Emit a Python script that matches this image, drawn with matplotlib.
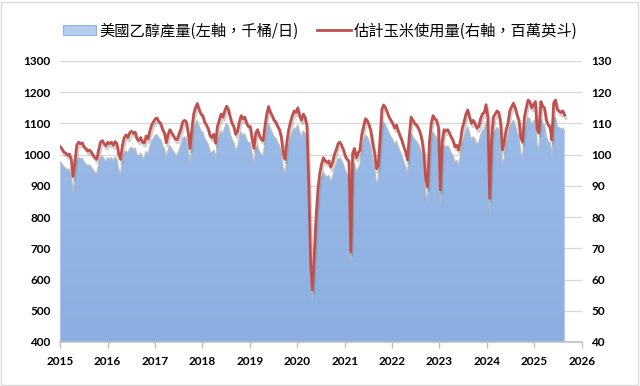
import numpy as np
import pandas as pd
import matplotlib
matplotlib.use("Agg")
import matplotlib.pyplot as plt
import matplotlib.dates as mdates
import matplotlib.patheffects as pe
from matplotlib.colors import LinearSegmentedColormap
from matplotlib.patches import Rectangle, Patch
from matplotlib.lines import Line2D
from matplotlib.font_manager import FontProperties

# 估計玉米使用量(右軸,百萬英斗),約每兩週一點
corn_2015 = [102.5, 101.8, 100.8, 100.5, 99.8, 100.2, 98.5, 93.0, 97.5, 103.0, 104.0, 103.5, 103.8,
             102.5, 102.0, 101.2, 101.5, 100.8, 99.8, 99.0, 98.5, 101.5, 104.0, 104.5, 103.5, 102.8]
corn_2016 = [104.0, 103.5, 104.0, 103.0, 104.2, 103.5, 100.0, 98.5, 103.0, 105.5, 106.3, 105.5, 107.0,
             107.5, 106.8, 107.2, 105.0, 104.5, 105.5, 104.0, 103.8, 106.0, 105.0, 107.5, 109.5, 110.5]
corn_2017 = [111.5, 111.7, 110.5, 110.0, 108.0, 107.0, 103.8, 106.5, 108.0, 107.0, 106.0, 105.0, 104.8,
             106.5, 108.2, 110.5, 111.0, 110.5, 107.0, 102.0, 108.0, 113.0, 115.0, 116.4, 114.5, 113.0]
corn_2018 = [112.5, 110.5, 109.5, 108.3, 106.0, 105.5, 106.5, 103.7, 109.0, 111.0, 113.0, 112.0, 114.0,
             115.5, 114.5, 112.0, 110.0, 109.0, 106.5, 107.5, 110.5, 112.5, 111.5, 112.0, 110.0, 109.0]
corn_2019 = [109.0, 105.0, 102.0, 107.0, 108.0, 106.0, 105.0, 104.5, 109.0, 113.0, 115.4, 113.5, 112.5,
             111.0, 110.5, 109.0, 108.0, 105.5, 100.5, 98.5, 104.0, 108.0, 110.5, 112.5, 114.0, 113.5]
corn_2020 = [115.0, 112.5, 111.0, 113.0, 112.0, 109.0, 90.0, 65.0, 56.6, 68.0, 80.0, 89.0, 94.0,
             97.0, 99.0, 98.0, 97.5, 98.0, 96.0, 97.5, 100.0, 101.5, 103.5, 104.0, 103.0, 101.5]
corn_2021 = [99.5, 98.5, 98.0, 68.8, 100.5, 102.0, 99.0, 100.5, 101.5, 106.5, 109.0, 111.5, 111.0,
             109.5, 107.5, 103.5, 100.5, 95.5, 96.5, 105.0, 114.5, 115.9, 115.0, 113.5, 112.0, 111.0]
corn_2022 = [110.0, 108.5, 109.5, 107.5, 106.0, 104.5, 102.5, 101.0, 98.3, 106.0, 112.0, 111.0, 110.0,
             109.5, 108.5, 107.0, 104.5, 100.0, 92.0, 89.6, 104.0, 110.0, 112.5, 111.5, 111.0, 108.5]
corn_2023 = [88.7, 104.0, 108.0, 107.5, 108.0, 107.0, 105.5, 104.5, 102.5, 103.0, 101.5, 104.5, 108.5,
             110.5, 113.0, 114.3, 112.0, 110.0, 111.0, 110.0, 108.5, 109.0, 111.5, 113.0, 113.5, 116.0]
corn_2024 = [112.0, 86.0, 104.5, 112.0, 113.0, 114.0, 113.5, 110.0, 101.5, 104.0, 108.0, 110.0, 114.0,
             115.3, 116.5, 115.0, 112.7, 111.0, 105.5, 104.0, 112.0, 115.0, 117.5, 117.0, 115.0, 116.0]
corn_2025 = [117.0, 108.0, 107.0, 117.0, 115.5, 115.0, 111.0, 109.5, 109.0, 104.7, 116.5, 117.5, 114.5,
             114.0, 113.5, 114.0, 112.7]

# 美國乙醇產量(左軸,千桶/日)
eth_2015 = [976, 970, 960, 957, 950, 954, 938, 880, 929, 981, 990, 986, 989,
            976, 971, 964, 967, 960, 950, 943, 938, 967, 990, 995, 986, 979]
eth_2016 = [990, 986, 990, 981, 992, 986, 952, 938, 981, 1005, 1012, 1005, 1019,
            1024, 1017, 1021, 1000, 995, 1005, 990, 989, 1010, 1000, 1024, 1043, 1052]
eth_2017 = [1062, 1064, 1052, 1048, 1029, 1019, 989, 1014, 1029, 1019, 1010, 1000, 998,
            1014, 1030, 1052, 1057, 1052, 1019, 971, 1029, 1076, 1095, 1109, 1090, 1076]
eth_2018 = [1071, 1052, 1043, 1031, 1010, 1005, 1014, 988, 1038, 1057, 1076, 1067, 1086,
            1100, 1090, 1067, 1048, 1038, 1014, 1024, 1052, 1071, 1062, 1067, 1048, 1038]
eth_2019 = [1038, 1000, 971, 1019, 1029, 1010, 1000, 995, 1038, 1076, 1099, 1081, 1071,
            1057, 1052, 1038, 1029, 1005, 957, 938, 990, 1029, 1052, 1071, 1086, 1081]
eth_2020 = [1095, 1071, 1057, 1076, 1067, 1038, 857, 619, 539, 648, 762, 848, 895,
            924, 943, 933, 929, 933, 914, 929, 952, 967, 986, 990, 981, 967]
eth_2021 = [948, 938, 933, 655, 957, 971, 943, 957, 967, 1014, 1038, 1062, 1057,
            1043, 1024, 986, 957, 910, 919, 1000, 1090, 1104, 1095, 1081, 1067, 1057]
eth_2022 = [1048, 1033, 1043, 1024, 1010, 995, 976, 962, 936, 1010, 1067, 1057, 1048,
            1043, 1033, 1019, 995, 952, 876, 853, 990, 1048, 1071, 1062, 1057, 1033]
eth_2023 = [845, 990, 1029, 1024, 1029, 1019, 1005, 995, 976, 981, 967, 995, 1033,
            1052, 1076, 1089, 1067, 1048, 1057, 1048, 1033, 1038, 1062, 1076, 1081, 1105]
eth_2024 = [1067, 819, 995, 1067, 1076, 1086, 1081, 1048, 967, 990, 1029, 1048, 1086,
            1098, 1110, 1095, 1073, 1057, 1005, 990, 1067, 1095, 1119, 1114, 1095, 1105]
eth_2025 = [1114, 1029, 1019, 1114, 1100, 1095, 1057, 1043, 1038, 997, 1110, 1119, 1090,
            1086, 1081, 1086, 1073]

corn = np.array(corn_2015 + corn_2016 + corn_2017 + corn_2018 + corn_2019 + corn_2020
                + corn_2021 + corn_2022 + corn_2023 + corn_2024 + corn_2025)
eth = np.array(eth_2015 + eth_2016 + eth_2017 + eth_2018 + eth_2019 + eth_2020
               + eth_2021 + eth_2022 + eth_2023 + eth_2024 + eth_2025, dtype=float)

dates = pd.date_range("2015-01-02", "2025-08-22", periods=len(corn))
x = mdates.date2num(dates)

left_ticks = list(range(400, 1301, 100))
right_ticks = list(range(40, 131, 10))
labels = ["美國乙醇產量(左軸，千桶/日)", "估計玉米使用量(右軸，百萬英斗)"]

RED = "#C0504D"
tick_font = dict(family="Lato", weight="bold", size=8.5)

fig = plt.figure(figsize=(6.4, 3.86), dpi=100)
fig.patches.append(Rectangle((0.002, 0.003), 0.995, 0.993, transform=fig.transFigure,
                             fill=False, edgecolor="#d9d9d9", lw=1))
ax = fig.add_axes([0.094, 0.114, 0.815, 0.728])
ax2 = ax.twinx()

# 漸層面積
poly = ax.fill_between(x, 400, eth, facecolor="none", edgecolor="none")
cmap = LinearSegmentedColormap.from_list("area", ["#8aafe0", "#9fbeea"])
grad = np.linspace(0, 1, 256).reshape(-1, 1)
im = ax.imshow(grad, extent=[x[0], x[-1], 400, 1300], origin="lower", aspect="auto",
               cmap=cmap, zorder=1)
im.set_clip_path(poly.get_paths()[0], transform=ax.transData)
ax.plot(x, eth, color="#b4bac4", lw=1.0, zorder=2, alpha=0.9)

ax2.plot(x, corn, color=RED, lw=2.0, zorder=3,
         path_effects=[pe.SimpleLineShadow(offset=(1, -2.5), shadow_color="#808080", alpha=0.35),
                       pe.Normal()])

ax.set_xlim(mdates.date2num(pd.Timestamp("2015-01-01")), mdates.date2num(pd.Timestamp("2026-01-01")))
ax.set_ylim(400, 1300)
ax2.set_ylim(40, 130)
ax.set_yticks(left_ticks)
ax2.set_yticks(right_ticks)
ax.xaxis.set_major_locator(mdates.YearLocator())
ax.xaxis.set_major_formatter(mdates.DateFormatter("%Y"))

ax.set_axisbelow(True)
ax.yaxis.grid(True, color="#d9d9d9", lw=1)
for a in (ax, ax2):
    for s in ("top", "left", "right"):
        a.spines[s].set_visible(False)
ax2.spines["bottom"].set_visible(False)
ax.spines["bottom"].set_color("#bfbfbf")
ax.spines["bottom"].set_linewidth(1.2)

ax.tick_params(axis="y", length=0, pad=7)
ax.tick_params(axis="x", length=4, color="#bfbfbf", width=1, pad=6)
ax2.tick_params(axis="y", length=0, pad=7)
for lab in ax.get_xticklabels() + ax.get_yticklabels() + ax2.get_yticklabels():
    lab.set_fontproperties(FontProperties(**tick_font))

handles = [Patch(facecolor="#b5cdee", edgecolor="#8eb4e3", lw=0.8),
           Line2D([], [], color=RED, lw=2)]
fig.legend(handles, labels, loc="center", bbox_to_anchor=(0.5, 0.92), ncol=2, frameon=False,
           prop=FontProperties(family=["Noto Sans CJK TC", "DejaVu Sans"], size=11),
           handlelength=2.2, handletextpad=0.2, columnspacing=1.2)

fig.savefig("out.png", dpi=100)
